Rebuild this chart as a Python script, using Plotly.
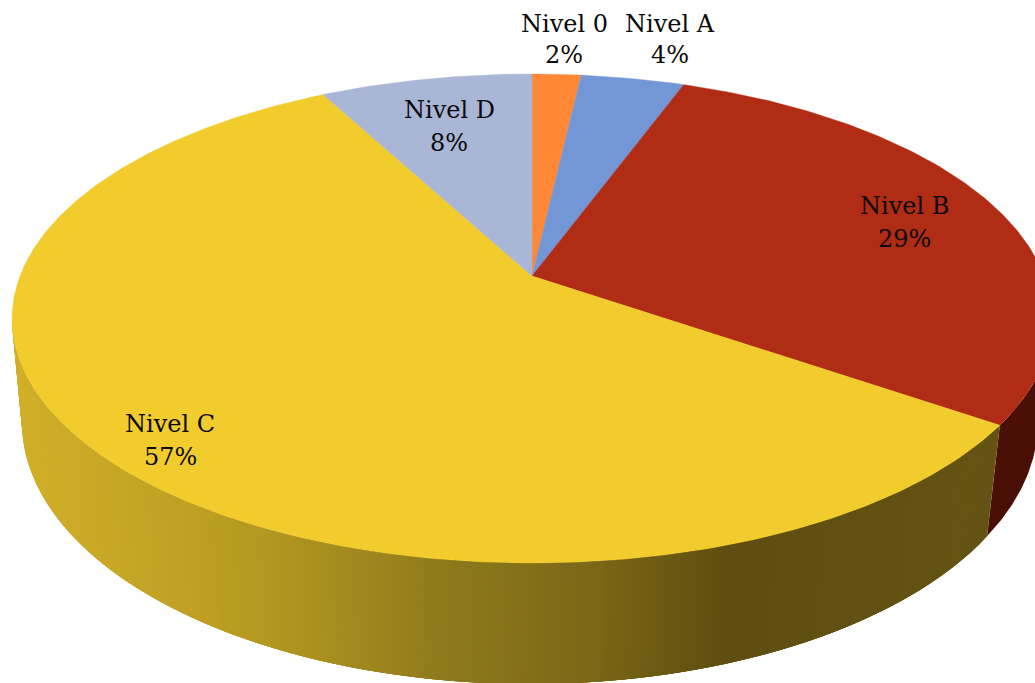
import numpy as np
import plotly.graph_objects as go

# ---- data ----
categories = ["Nivel 0", "Nivel A", "Nivel B", "Nivel C", "Nivel D"]
shares = [1.8, 3.8, 29.0, 57.6, 7.8]
shown_pct = ["2%", "4%", "29%", "57%", "8%"]

# ---- style ----
top_colors = ["#FF8837", "#7397D6", "#B12C14", "#F2CC2C", "#AAB6D5"]
side_dark_red = "#4A0F06"
side_stops_x = [15, 200, 300, 450, 600, 725, 1040]
side_stops_rgb = [(210, 176, 41), (191, 160, 35), (174, 147, 32), (142, 122, 28),
                  (122, 102, 22), (95, 78, 16), (102, 85, 21)]
font_family = "DejaVu Serif"
font_size = 24
label_xy = {"Nivel 0": (564, 24, 55), "Nivel A": (670, 24, 55), "Nivel B": (904, 206, 239),
            "Nivel C": (170, 424, 457), "Nivel D": (449, 110, 143)}

W, H = 1035, 683
# perspective view of the pie disc
apex_x, apex_y, A, B, K = 532.0, 276.0, 512.0, 237.1, 0.1738
# top rim ellipse and lower rim ellipse
top_c = (532.0, 318.5, 520.0, 244.5)
low_c = (530.0, 422.0, 508.0, 262.0)


def rim(theta):
    u, v = np.sin(theta), np.cos(theta)
    d = 1 + K * v
    return apex_x + A * u / d, apex_y - B * v / d


def ell(c, t):
    return c[0] + c[2] * np.cos(t), c[1] + c[3] * np.sin(t)


def to_t(theta):
    x, y = rim(theta)
    return np.arctan2((y - top_c[1]) / top_c[3], (x - top_c[0]) / top_c[2])


fig = go.Figure()


def poly(xs, ys, color, lw=0.0):
    fig.add_trace(go.Scatter(x=xs, y=ys, mode="lines", fill="toself", fillcolor=color,
                             line=dict(color=color, width=lw), hoverinfo="skip", showlegend=False))


edges = 2 * np.pi * np.cumsum([0] + shares) / sum(shares)
t_bc = float(to_t(edges[3]))

# side of Nivel B
ts = np.linspace(-0.1, t_bc, 80)
xa, ya = ell(top_c, ts)
xb, yb = ell(low_c, ts)
poly(list(xa) + list(xb[::-1]), list(ya) + list(yb[::-1]), side_dark_red)

# side of Nivel C: shaded in thin strips painted over each other, so no seams show
ts = np.linspace(t_bc, np.pi, 240)
for i in range(len(ts) - 1):
    seg = ts[i:min(i + 5, len(ts))]
    xa, ya = ell(top_c, seg)
    xb, yb = ell(low_c, seg)
    xm = (xa[0] + xb[0] + xa[1] + xb[1]) / 4
    rgb = [np.interp(xm, side_stops_x, [s[j] for s in side_stops_rgb]) for j in range(3)]
    poly(list(xa) + list(xb[::-1]), list(ya) + list(yb[::-1]), "rgb(%d,%d,%d)" % tuple(rgb))

# top face
for i, name in enumerate(categories):
    th = np.linspace(edges[i], edges[i + 1], max(8, int(shares[i] * 5)))
    x, y = rim(th)
    poly([apex_x] + list(x) + [apex_x], [apex_y] + list(y) + [apex_y], top_colors[i], 0.4)

anns = []
for name, pct in zip(categories, shown_pct):
    lx, y1, y2 = label_xy[name]
    for txt, yy in ((name, y1), (pct, y2)):
        anns.append(dict(x=lx, y=yy, text=txt, showarrow=False, xanchor="center", yanchor="middle",
                         font=dict(family=font_family, size=font_size, color="#0A0A0A")))

fig.update_layout(width=W, height=H, margin=dict(l=0, r=0, t=0, b=0), paper_bgcolor="white",
                  plot_bgcolor="white", showlegend=False, annotations=anns,
                  xaxis=dict(range=[0, W], visible=False, fixedrange=True),
                  yaxis=dict(range=[H, 0], visible=False, fixedrange=True))
fig.write_html("out.html", config={"displayModeBar": False},
               post_script="document.body.style.margin='0';document.documentElement.style.overflow='hidden';")
